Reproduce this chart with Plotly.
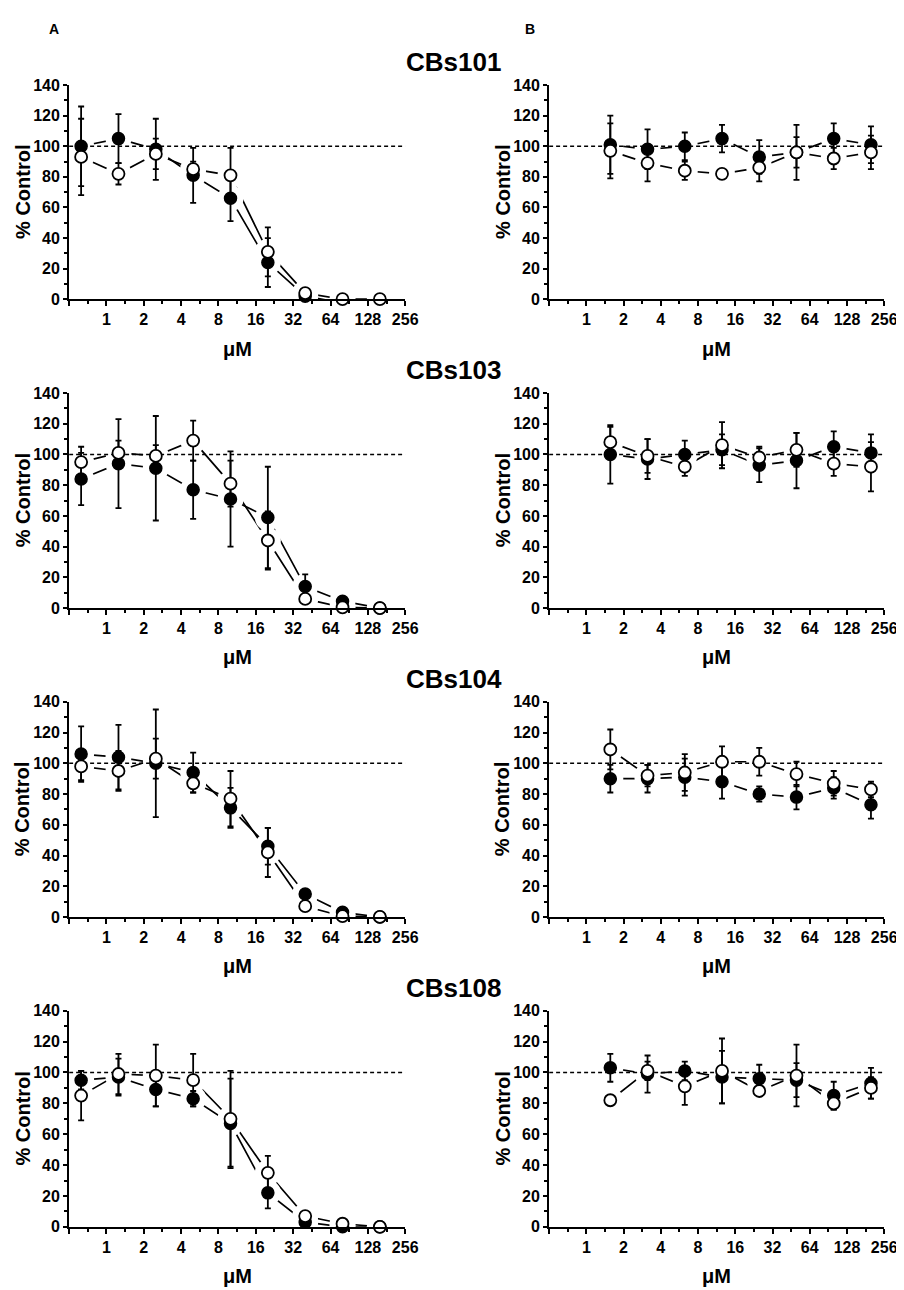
import math
import plotly.graph_objects as go

# ---------------- data ----------------
conc_A = [0.625, 1.25, 2.5, 5, 10, 20, 40, 80, 160]
conc_B = [1.5625, 3.125, 6.25, 12.5, 25, 50, 100, 200]
x_tick_vals = [0.5, 1, 2, 4, 8, 16, 32, 64, 128, 256]
x_tick_text = ["", "1", "2", "4", "8", "16", "32", "64", "128", "256"]
y_tick_vals = [0, 20, 40, 60, 80, 100, 120, 140]
control_level = 100
compounds = ["CBs101", "CBs103", "CBs104", "CBs108"]

cbs101_A_filled = [100, 105, 98, 81, 66, 24, 2, -2.5, -3]
cbs101_A_filled_err = [26, 16, 20, 18, 15, 16, 0, 0, 0]
cbs101_A_open = [93, 82, 95, 85, 81, 31, 4, 0, 0]
cbs101_A_open_err = [25, 7, 10, 5, 18, 16, 0, 0, 0]
cbs101_B_filled = [101, 98, 100, 105, 93, 96, 105, 101]
cbs101_B_filled_err = [19, 13, 9, 9, 11, 10, 10, 12]
cbs101_B_open = [97, 89, 84, 82, 86, 96, 92, 96]
cbs101_B_open_err = [18, 12, 6, 0, 9, 18, 7, 11]

cbs103_A_filled = [84, 94, 91, 77, 71, 59, 14, 4.5, 0]
cbs103_A_filled_err = [17, 29, 34, 19, 31, 33, 8, 0, 0]
cbs103_A_open = [95, 101, 99, 109, 81, 44, 6, 0.5, 0]
cbs103_A_open_err = [10, 8, 7, 13, 15, 19, 0, 0, 0]
cbs103_B_filled = [100, 97, 100, 103, 93, 96, 105, 101]
cbs103_B_filled_err = [19, 13, 9, 10, 11, 18, 10, 12]
cbs103_B_open = [108, 99, 92, 106, 98, 103, 94, 92]
cbs103_B_open_err = [10, 11, 6, 15, 7, 11, 8, 16]

cbs104_A_filled = [106, 104, 100, 94, 71, 46, 15, 3, 0]
cbs104_A_filled_err = [18, 21, 35, 13, 13, 12, 0, 0, 0]
cbs104_A_open = [98, 95, 103, 87, 77, 42, 7, 0.5, 0]
cbs104_A_open_err = [9, 13, 13, 6, 18, 16, 0, 0, 0]
cbs104_B_filled = [90, 90, 91, 88, 80, 78, 84, 73]
cbs104_B_filled_err = [9, 9, 12, 11, 5, 8, 7, 9]
cbs104_B_open = [109, 92, 94, 101, 101, 93, 87, 83]
cbs104_B_open_err = [13, 7, 12, 10, 9, 8, 8, 5]

cbs108_A_filled = [95, 97, 89, 83, 67, 22, 3, 0, 0]
cbs108_A_filled_err = [6, 12, 11, 5, 29, 10, 0, 0, 0]
cbs108_A_open = [85, 99, 98, 95, 70, 35, 7, 2, 0]
cbs108_A_open_err = [16, 13, 20, 17, 31, 11, 0, 0, 0]
cbs108_B_filled = [103, 99, 101, 97, 96, 95, 85, 93]
cbs108_B_filled_err = [9, 12, 6, 17, 9, 11, 9, 10]
cbs108_B_open = [82, 101, 91, 101, 88, 98, 80, 90]
cbs108_B_open_err = [0, 6, 12, 21, 0, 20, 4, 7]

panels = [
    [(conc_A, cbs101_A_filled, cbs101_A_filled_err, cbs101_A_open, cbs101_A_open_err),
     (conc_B, cbs101_B_filled, cbs101_B_filled_err, cbs101_B_open, cbs101_B_open_err)],
    [(conc_A, cbs103_A_filled, cbs103_A_filled_err, cbs103_A_open, cbs103_A_open_err),
     (conc_B, cbs103_B_filled, cbs103_B_filled_err, cbs103_B_open, cbs103_B_open_err)],
    [(conc_A, cbs104_A_filled, cbs104_A_filled_err, cbs104_A_open, cbs104_A_open_err),
     (conc_B, cbs104_B_filled, cbs104_B_filled_err, cbs104_B_open, cbs104_B_open_err)],
    [(conc_A, cbs108_A_filled, cbs108_A_filled_err, cbs108_A_open, cbs108_A_open_err),
     (conc_B, cbs108_B_filled, cbs108_B_filled_err, cbs108_B_open, cbs108_B_open_err)],
]

# ---------------- layout geometry (pixels) ----------------
W, H = 904, 1290
col_px = [(62, 403), (549, 889)]
row_px = [(70, 287), (382, 600), (695, 913), (1008, 1227)]
FONT = "Liberation Sans, Arial, Helvetica, sans-serif"

fig = go.Figure()
layout = dict(
    width=W, height=H,
    margin=dict(l=0, r=0, t=0, b=0),
    paper_bgcolor="white", plot_bgcolor="white",
    showlegend=False,
    font=dict(family=FONT, color="black"),
)
annotations = []

minor_x = [v * math.sqrt(2) for v in x_tick_vals[:-1]]

for r in range(4):
    for c in range(2):
        k = r * 2 + c + 1
        xn = "x" if k == 1 else f"x{k}"
        yn = "y" if k == 1 else f"y{k}"
        xd = [col_px[c][0] / W, col_px[c][1] / W]
        yd = [1 - row_px[r][1] / H, 1 - row_px[r][0] / H]
        layout[f"xaxis{k}"] = dict(
            domain=xd, anchor=yn, type="log",
            range=[math.log10(x_tick_vals[0]), math.log10(x_tick_vals[-1])],
            tickmode="array", tickvals=x_tick_vals, ticktext=x_tick_text,
            ticks="outside", ticklen=5, tickwidth=2, tickcolor="black",
            showline=True, linewidth=2, linecolor="black",
            showgrid=False, zeroline=False,
            tickfont=dict(family=FONT, size=16, color="black", weight="bold"),
            minor=dict(tickmode="array", tickvals=minor_x, ticks="outside",
                       ticklen=3, tickwidth=2, tickcolor="black", showgrid=False),
        )
        layout[f"yaxis{k}"] = dict(
            domain=yd, anchor=xn, range=[0, 140],
            tickmode="array", tickvals=y_tick_vals,
            ticks="outside", ticklen=4, tickwidth=2, tickcolor="black",
            showline=True, linewidth=2, linecolor="black",
            showgrid=False, zeroline=False,
            tickfont=dict(family=FONT, size=16, color="black", weight="bold"),
            minor=dict(tickmode="array", tickvals=[10, 30, 50, 70, 90, 110, 130],
                       ticks="outside", ticklen=3, tickwidth=2, tickcolor="black",
                       showgrid=False),
        )

        conc, fv, fe, ov, oe = panels[r][c]
        # connecting lines
        for vals in (fv, ov):
            fig.add_trace(go.Scatter(x=conc, y=vals, xaxis=xn, yaxis=yn, mode="lines",
                                     line=dict(color="black", width=1.7),
                                     cliponaxis=False, hoverinfo="skip"))
        # white halos so the connecting lines stop short of the symbols
        for vals in (fv, ov):
            fig.add_trace(go.Scatter(x=conc, y=vals, xaxis=xn, yaxis=yn, mode="markers",
                                     marker=dict(size=26, color="white", line=dict(width=0)),
                                     cliponaxis=False, hoverinfo="skip"))
        # dashed control line at 100 %
        fig.add_trace(go.Scatter(
            x=[x_tick_vals[0], x_tick_vals[-1]], y=[control_level, control_level],
            xaxis=xn, yaxis=yn, mode="lines",
            line=dict(color="black", width=1.6, dash="4px,3px"), hoverinfo="skip"))
        # filled symbols
        fig.add_trace(go.Scatter(
            x=conc, y=fv, xaxis=xn, yaxis=yn, mode="markers",
            marker=dict(size=12, color="black", line=dict(color="black", width=1.5)),
            error_y=dict(type="data", array=fe, visible=True, color="black",
                         thickness=1.8, width=3),
            cliponaxis=False))
        # open symbols
        fig.add_trace(go.Scatter(
            x=conc, y=ov, xaxis=xn, yaxis=yn, mode="markers",
            marker=dict(size=12, color="white", line=dict(color="black", width=1.8)),
            error_y=dict(type="data", array=oe, visible=True, color="black",
                         thickness=1.8, width=3),
            cliponaxis=False))

        # axis titles
        annotations.append(dict(
            text="μM", xref="paper", yref="paper",
            x=(col_px[c][0] + col_px[c][1]) / 2 / W, y=1 - (row_px[r][1] + 50) / H,
            showarrow=False, xanchor="center", yanchor="middle",
            font=dict(family=FONT, size=20, color="black", weight="bold")))
        annotations.append(dict(
            text="% Control", xref="paper", yref="paper",
            x=(col_px[c][0] - 47) / W, y=1 - (row_px[r][0] + row_px[r][1]) / 2 / H,
            textangle=-90, showarrow=False, xanchor="center", yanchor="middle",
            font=dict(family=FONT, size=20, color="black", weight="bold")))

    annotations.append(dict(
        text=compounds[r], xref="paper", yref="paper",
        x=0.5, y=1 - (row_px[r][0] - 23) / H, showarrow=False,
        xanchor="center", yanchor="middle",
        font=dict(family=FONT, size=26, color="black", weight="bold")))

annotations.append(dict(text="A", xref="paper", yref="paper", x=47 / W, y=1 - 13 / H,
                        showarrow=False, xanchor="center", yanchor="middle",
                        font=dict(family=FONT, size=14, color="black", weight="bold")))
annotations.append(dict(text="B", xref="paper", yref="paper", x=530 / W, y=1 - 13 / H,
                        showarrow=False, xanchor="center", yanchor="middle",
                        font=dict(family=FONT, size=14, color="black", weight="bold")))

layout["annotations"] = annotations
fig.update_layout(**layout)
fig.write_html("out.html")
